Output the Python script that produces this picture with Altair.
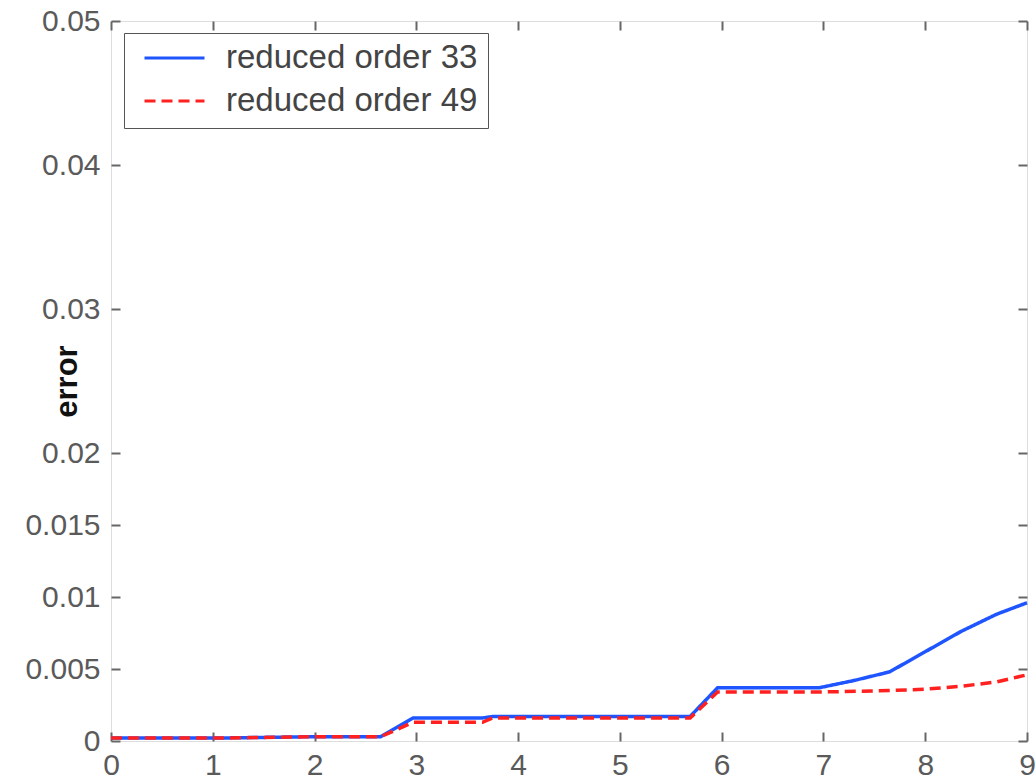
import altair as alt
import pandas as pd

# Series names
s33 = "reduced order 33"
s49 = "reduced order 49"

# Reduced order 33 (blue, solid)
x33 = [0, 1, 2, 2.65, 2.97, 3.65, 3.75, 5.69, 5.96, 6.96, 7.3, 7.65, 8.0, 8.35, 8.7, 9.0]
y33 = [0.0002, 0.0002, 0.0003, 0.0003, 0.0016, 0.0016, 0.0017, 0.0017, 0.0037, 0.0037,
       0.0042, 0.0048, 0.0062, 0.0076, 0.0088, 0.0096]

# Reduced order 49 (red, dashed)
x49 = [0, 1, 2, 2.65, 2.97, 3.65, 3.75, 5.69, 5.96, 6.96, 7.65, 8.0, 8.35, 8.7, 9.0]
y49 = [0.0002, 0.0002, 0.0003, 0.0003, 0.0013, 0.0013, 0.0016, 0.0016, 0.0034, 0.0034,
       0.0035, 0.0036, 0.0038, 0.0041, 0.0046]

# Axis ticks
x_ticks = [0, 1, 2, 3, 4, 5, 6, 7, 8, 9]
y_ticks = [0, 0.005, 0.01, 0.015, 0.02, 0.03, 0.04, 0.05]

df = pd.concat([
    pd.DataFrame({"x": x33, "y": y33, "series": s33, "ord": 0}),
    pd.DataFrame({"x": x49, "y": y49, "series": s49, "ord": 1}),
])

FONT = "Liberation Sans"
W, H = 916, 720

xscale = alt.Scale(domain=[0, 9], nice=False, zero=False)
yscale = alt.Scale(domain=[0, 0.05], nice=False)

common_axis = dict(
    domain=False, ticks=True, tickSize=9, tickWidth=2, tickColor="#666",
    grid=False, offset=-9, labelFont=FONT, labelFontSize=30, labelColor="#5a5a5a",
    labelFlush=False, labelOverlap=False,
)

legend_opts = dict(
    title=None, orient="none", legendX=13, legendY=12,
    padding=10, strokeColor="#555", fillColor="white",
    symbolType="stroke", symbolSize=3600, symbolStrokeWidth=3,
    symbolOffset=9, clipHeight=30, rowPadding=10,
    labelOffset=20, labelFont=FONT, labelFontSize=33, labelColor="#444",
    labelLimit=600,
)

lines = alt.Chart(df).mark_line(strokeWidth=3.5).encode(
    x=alt.X("x:Q", scale=xscale,
            axis=alt.Axis(orient="bottom", values=x_ticks, format="d", title=None,
                          labelPadding=9, labelBaseline="top", **common_axis)),
    y=alt.Y("y:Q", scale=yscale,
            axis=alt.Axis(orient="left", values=y_ticks, format="~g",
                          title="error", titleFont=FONT, titleFontSize=31,
                          titleFontWeight="bold", titleColor="#111",
                          titleAngle=270, titleX=-53, titleY=H / 2,
                          titleAlign="center", titleBaseline="middle",
                          labelPadding=11, **common_axis)),
    color=alt.Color("series:N",
                    scale=alt.Scale(domain=[s33, s49], range=["#1f55ff", "#ff2020"]),
                    legend=alt.Legend(**legend_opts)),
    strokeDash=alt.StrokeDash("series:N",
                              scale=alt.Scale(domain=[s33, s49], range=[[1, 0], [11, 6]]),
                              legend=alt.Legend(**legend_opts)),
    order="ord:Q",
)

frame_axes = alt.Chart(df).mark_point(opacity=0).encode(
    x=alt.X("x:Q", scale=xscale,
            axis=alt.Axis(orient="top", values=x_ticks, labels=False, title=None, **common_axis)),
    y=alt.Y("y:Q", scale=yscale,
            axis=alt.Axis(orient="right", values=y_ticks, labels=False, title=None, **common_axis)),
)

chart = alt.layer(lines, frame_axes).resolve_axis(
    x="independent", y="independent"
).properties(
    width=W, height=H,
    autosize=alt.AutoSizeParams(type="none"),
    padding={"left": 111, "top": 21, "right": 9, "bottom": 38},
).configure_view(
    stroke="#777", strokeWidth=2
).configure_legend(
    strokeWidth=2
).configure(background="white")

chart.save("out.html", embed_options={"renderer": "svg", "actions": False})
